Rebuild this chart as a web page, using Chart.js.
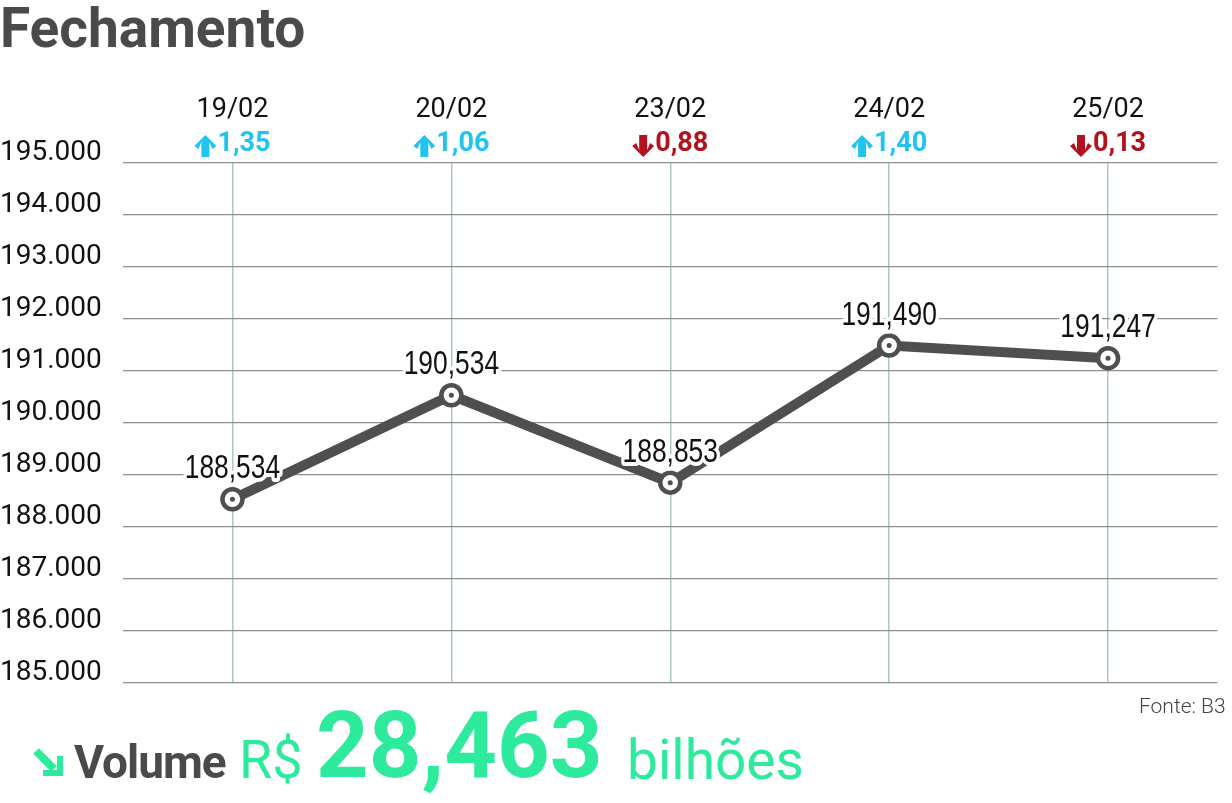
<!DOCTYPE html>
<html>
<head>
<meta charset="utf-8">
<script src="https://cdn.jsdelivr.net/npm/chart.js@4.4.1/dist/chart.umd.min.js"></script>
<style>
  html, body { margin: 0; padding: 0; background: #fff; }
  #wrap { position: relative; width: 1232px; height: 803px; overflow: hidden; font-family: Roboto, "Liberation Sans", sans-serif; }
  #c { position: absolute; left: 0; top: 0; }
  .t { position: absolute; line-height: 1; white-space: nowrap; }
  #title { left: 0; top: 1px; font-size: 55px; font-weight: 700; color: #4a4a4a; letter-spacing: 0px; }
  #vol { left: 74px; top: 739px; font-size: 46px; font-weight: 700; color: #4a4a4a; letter-spacing: -1px; }
  #rs { left: 239px; top: 733px; font-size: 54px; font-weight: 400; color: #2eea9c; }
  #num { left: 316px; top: 700px; font-size: 92px; font-weight: 700; color: #2eea9c; }
  #bil { left: 627px; top: 733px; font-size: 55px; font-weight: 400; color: #2eea9c; }
  #src { left: 1139px; top: 696px; font-size: 21px; font-weight: 300; color: #444; }
  #arrow { position: absolute; left: 32px; top: 745px; }
</style>
</head>
<body>
<div id="wrap">
  <canvas id="c" width="1232" height="803"></canvas>
  <div class="t" id="title">Fechamento</div>
  <svg id="arrow" width="36" height="34" viewBox="0 0 36 34">
    <path d="M4 6 L22 24" stroke="#2eea9c" stroke-width="8" fill="none" stroke-linecap="butt"/>
    <path d="M31 31 L31 11 L25 11 L25 25 L11 25 L11 31 Z" fill="#2eea9c"/>
  </svg>
  <div class="t" id="vol">Volume</div>
  <div class="t" id="rs">R$</div>
  <div class="t" id="num">28,463</div>
  <div class="t" id="bil">bilhões</div>
  <div class="t" id="src">Fonte: B3</div>
</div>
<script>
const dates = ['19/02', '20/02', '23/02', '24/02', '25/02'];
const closes = [188534, 190534, 188853, 191490, 191247];
const changes = [1.35, 1.06, -0.88, 1.40, -0.13];
const yMin = 185000;
const yMax = 195000;
const yStep = 1000;

const UP = '#22c3ef';
const DOWN = '#b3121c';
const LINE = '#4f4f4f';

function fmtClose(v) { return (v / 1000).toFixed(3).replace('.', ','); }
function fmtTick(v) { return Math.round(v / 1000) + '.000'; }
function fmtChange(v) { return Math.abs(v).toFixed(2).replace('.', ','); }

function drawArrow(ctx, x, yc, up, color) {
  const w = 22, h = 22, shaft = 8, head = 11;
  const top = yc - h / 2, bot = yc + h / 2, cx = x + w / 2;
  ctx.beginPath();
  if (up) {
    ctx.moveTo(cx, top);
    ctx.lineTo(x + w, top + head);
    ctx.lineTo(x + w - 4, top + head + 3);
    ctx.lineTo(cx + shaft / 2, top + 7);
    ctx.lineTo(cx + shaft / 2, bot);
    ctx.lineTo(cx - shaft / 2, bot);
    ctx.lineTo(cx - shaft / 2, top + 7);
    ctx.lineTo(x + 4, top + head + 3);
    ctx.lineTo(x, top + head);
  } else {
    ctx.moveTo(cx, bot);
    ctx.lineTo(x + w, bot - head);
    ctx.lineTo(x + w - 4, bot - head - 3);
    ctx.lineTo(cx + shaft / 2, bot - 7);
    ctx.lineTo(cx + shaft / 2, top);
    ctx.lineTo(cx - shaft / 2, top);
    ctx.lineTo(cx - shaft / 2, bot - 7);
    ctx.lineTo(x + 4, bot - head - 3);
    ctx.lineTo(x, bot - head);
  }
  ctx.closePath();
  ctx.fillStyle = color;
  ctx.fill();
}

const headerPlugin = {
  id: 'header',
  afterDatasetsDraw(chart) {
    const ctx = chart.ctx;
    const meta = chart.getDatasetMeta(1);
    ctx.save();
    ctx.textAlign = 'center';
    ctx.textBaseline = 'middle';
    ctx.font = '33px "Liberation Sans", Arial, sans-serif';
    ctx.lineJoin = 'round';
    meta.data.forEach((pt, i) => {
      const txt = fmtClose(closes[i]);
      ctx.save();
      ctx.translate(pt.x, pt.y - 30);
      ctx.scale(0.8, 1);
      ctx.strokeStyle = '#ffffff';
      ctx.lineWidth = 8;
      ctx.strokeText(txt, 0, 0);
      ctx.fillStyle = '#111111';
      ctx.fillText(txt, 0, 0);
      ctx.restore();
    });
    ctx.restore();
  },
  afterDraw(chart) {
    const ctx = chart.ctx;
    const xs = chart.scales.x;
    ctx.save();
    ctx.textAlign = 'left';
    ctx.textBaseline = 'middle';
    ctx.font = 'bold 27px Roboto, "DejaVu Sans", sans-serif';
    changes.forEach((v, i) => {
      const color = v >= 0 ? UP : DOWN;
      const txt = fmtChange(v);
      const tw = ctx.measureText(txt).width;
      const total = 22 + 1 + tw;
      const x0 = xs.getPixelForValue(i) - total / 2;
      drawArrow(ctx, x0, 146, v >= 0, color);
      ctx.fillStyle = color;
      ctx.fillText(txt, x0 + 23, 144);
    });
    ctx.restore();
  }
};

new Chart(document.getElementById('c'), {
  type: 'line',
  data: {
    labels: dates,
    datasets: [
      {
        data: closes,
        showLine: false,
        pointRadius: 2.5,
        pointBackgroundColor: LINE,
        pointBorderWidth: 0,
        pointHoverRadius: 2.5
      },
      {
        data: closes,
        borderColor: LINE,
        borderWidth: 10,
        tension: 0,
        pointRadius: 10,
        pointBorderWidth: 4.5,
        pointBorderColor: LINE,
        pointBackgroundColor: '#ffffff',
        pointHoverRadius: 10
      }
    ]
  },
  options: {
    responsive: false,
    animation: false,
    events: [],
    layout: { padding: { left: 0, right: 11, top: 0, bottom: 120 } },
    plugins: { legend: { display: false }, tooltip: { enabled: false }, title: { display: false } },
    scales: {
      x: {
        type: 'category',
        position: 'top',
        offset: true,
        afterFit(s) { s.height = 163; },
        grid: { offset: false, color: '#a7cbc3', lineWidth: 1.5, drawTicks: false },
        border: { display: false },
        ticks: { color: '#111', padding: 37, font: { family: 'Roboto', size: 27 } }
      },
      y: {
        min: yMin,
        max: yMax,
        afterFit(s) { s.width = 123; },
        grid: { color: '#8e8e8e', lineWidth: 1.3, drawTicks: false },
        border: { display: false },
        ticks: {
          stepSize: yStep,
          crossAlign: 'far',
          labelOffset: -10,
          color: '#111',
          font: { family: 'Roboto', size: 28 },
          callback: (v) => fmtTick(v)
        }
      }
    }
  },
  plugins: [headerPlugin]
});
</script>
</body>
</html>
